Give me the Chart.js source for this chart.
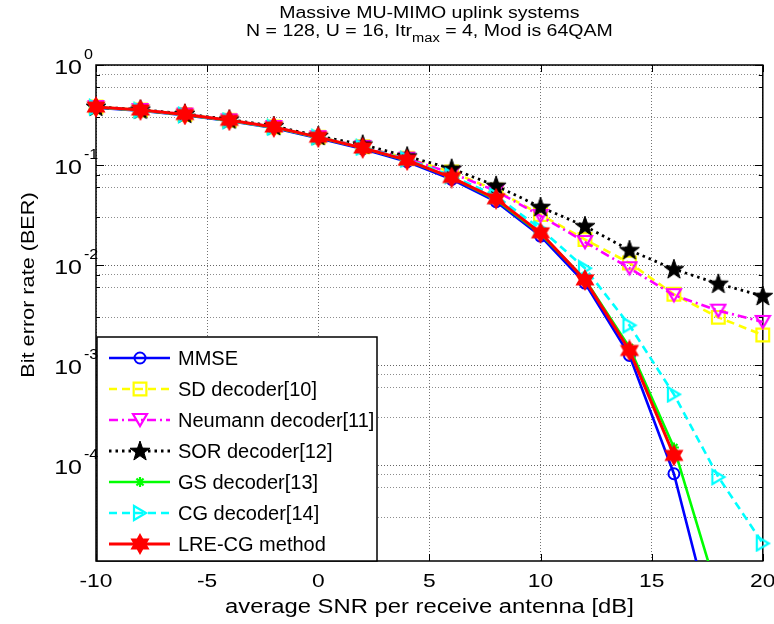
<!DOCTYPE html>
<html><head><meta charset="utf-8">
<script src="https://cdn.jsdelivr.net/npm/chart.js@4.4.0/dist/chart.umd.min.js"></script>
<style>html,body{margin:0;padding:0;background:#fff;}#wrap{width:774px;height:624px;}</style>
</head><body><div id="wrap"><canvas id="c" width="774" height="624"></canvas></div>
<script>
// ---- data ----
const snr = [-10,-8,-6,-4,-2,0,2,4,6,8,10,12,14,16,18,20];
const berMMSE    = [0.375,0.35,0.315,0.275,0.235,0.185,0.145,0.108,0.072,0.043,0.0195,0.0066,0.00125,0.000082,0.0000015,null];
const berSD      = [0.38,0.355,0.32,0.28,0.24,0.19,0.152,0.117,0.085,0.056,0.032,0.018,0.0105,0.0051,0.003,0.002];
const berNeumann = [0.38,0.355,0.32,0.28,0.24,0.19,0.152,0.116,0.083,0.055,0.031,0.017,0.0093,0.005,0.0035,0.0027];
const berSOR     = [0.382,0.358,0.325,0.285,0.245,0.195,0.16,0.122,0.092,0.062,0.038,0.0245,0.0141,0.0091,0.0065,0.0049];
const berGS      = [0.378,0.352,0.318,0.278,0.238,0.188,0.148,0.111,0.075,0.045,0.0205,0.0072,0.0015,0.00015,0.000005,null];
const berCG      = [0.378,0.352,0.318,0.278,0.238,0.19,0.15,0.114,0.078,0.049,0.023,0.0093,0.0025,0.00051,0.000076,0.0000165];
const berLRE     = [0.38,0.355,0.32,0.28,0.24,0.19,0.148,0.112,0.075,0.046,0.021,0.0071,0.0014,0.000125,null,null];
const seriesNames = ['MMSE','SD decoder[10]','Neumann decoder[11]','SOR decoder[12]','GS decoder[13]','CG decoder[14]','LRE-CG method'];
const xTicks = [-10,-5,0,5,10,15,20];
const yDecadeExps = [0,-1,-2,-3,-4];
const titleLine1 = 'Massive MU-MIMO uplink systems';
const titleLine2a = 'N = 128, U = 16, Itr', titleLine2sub = 'max', titleLine2b = ' = 4, Mod is 64QAM';
const xLabel = 'average SNR per receive antenna [dB]';
const yLabel = 'Bit error rate (BER)';

const FONT = '"Liberation Sans", Arial, sans-serif';

// ---- marker images ----
function mk(w,h,fn){const c=document.createElement('canvas');c.width=w;c.height=h;const g=c.getContext('2d');fn(g,w,h);return c;}
function starPath(g,cx,cy,n,ro,ri){g.beginPath();for(let i=0;i<2*n;i++){const r=i%2?ri:ro;const a=-Math.PI/2+i*Math.PI/n;const px=cx+r*Math.cos(a),py=cy+r*Math.sin(a);i?g.lineTo(px,py):g.moveTo(px,py);}g.closePath();}
const mTriDown = mk(18,18,(g)=>{g.strokeStyle='#FF00FF';g.lineWidth=2.2;g.beginPath();g.moveTo(2,3);g.lineTo(16,3);g.lineTo(9,15);g.closePath();g.stroke();});
const mTriRight = mk(18,18,(g)=>{g.strokeStyle='#00FFFF';g.lineWidth=2.2;g.beginPath();g.moveTo(3,2);g.lineTo(3,16);g.lineTo(15,9);g.closePath();g.stroke();});
const mPenta = mk(24,24,(g)=>{starPath(g,12,12.5,5,10.5,4.2);g.fillStyle='#000';g.fill();g.strokeStyle='#000';g.lineWidth=1;g.stroke();});
const mHexa = mk(22,22,(g)=>{starPath(g,11,11,6,9.5,5.4);g.fillStyle='#FF0000';g.fill();g.strokeStyle='#FF0000';g.lineWidth=1.5;g.stroke();});

const styles = [
  {color:'#0000FF', dash:[], width:2.6, pointStyle:'circle', radius:5.5, fill:'rgba(0,0,0,0)', pbw:2},
  {color:'#FFFF00', dash:[8,5], width:2.6, pointStyle:'rect', radius:9, fill:'rgba(0,0,0,0)', pbw:2.2},
  {color:'#FF00FF', dash:[9,4,2,4], width:2.6, pointStyle:mTriDown, radius:8, fill:'rgba(0,0,0,0)', pbw:2},
  {color:'#000000', dash:[2.5,4], width:2.8, pointStyle:mPenta, radius:8, fill:'#000', pbw:1},
  {color:'#00FF00', dash:[], width:2.6, pointStyle:'star', radius:5, fill:'#00FF00', pbw:2.2},
  {color:'#00FFFF', dash:[8,5], width:2.6, pointStyle:mTriRight, radius:8, fill:'rgba(0,0,0,0)', pbw:2},
  {color:'#FF0000', dash:[], width:3, pointStyle:mHexa, radius:8, fill:'#FF0000', pbw:1.5}
];
const seriesData = [berMMSE,berSD,berNeumann,berSOR,berGS,berCG,berLRE];

const datasets = seriesData.map((arr,i)=>({
  label: seriesNames[i],
  data: snr.map((x,j)=>({x:x,y:arr[j]})),
  borderColor: styles[i].color,
  backgroundColor: styles[i].fill,
  borderWidth: styles[i].width,
  borderDash: styles[i].dash,
  pointStyle: styles[i].pointStyle,
  pointRadius: styles[i].radius,
  pointBorderWidth: styles[i].pbw,
  pointBorderColor: styles[i].color,
  pointBackgroundColor: styles[i].fill,
  tension: 0,
  spanGaps: false,
  order: 6-i,
  clip: {left:15, top:15, right:15, bottom:0}
}));

// text drawn with a horizontal stretch along the baseline
function stext(ctx, str, x, y, size, align, sx){
  ctx.font = size+'px '+FONT; ctx.textAlign='left'; ctx.textBaseline='middle';
  const w = ctx.measureText(str).width*sx;
  const xl = align==='center'? x-w/2 : align==='right'? x-w : x;
  ctx.save(); ctx.translate(xl,y); ctx.scale(sx,1); ctx.fillText(str,0,0); ctx.restore();
  return w;
}

const decor = {
  id:'decor',
  beforeDatasetsDraw(chart){
    const {ctx, chartArea:a} = chart; const ys = chart.scales.y, xs = chart.scales.x;
    ctx.save();
    ctx.strokeStyle='#000'; ctx.lineWidth=1;
    ys.ticks.forEach(t=>{
      const y=Math.round(ys.getPixelForValue(t.value))+0.5;
      const L = t.major?8:4;
      ctx.beginPath();ctx.moveTo(a.left,y);ctx.lineTo(a.left+L,y);ctx.moveTo(a.right,y);ctx.lineTo(a.right-L,y);ctx.stroke();
    });
    xs.ticks.forEach(t=>{
      const x=Math.round(xs.getPixelForValue(t.value))+0.5;
      ctx.beginPath();ctx.moveTo(x,a.top);ctx.lineTo(x,a.top+7);ctx.moveTo(x,a.bottom);ctx.lineTo(x,a.bottom-7);ctx.stroke();
    });
    ctx.lineWidth=1.5;
    ctx.strokeRect(a.left,a.top,a.right-a.left,a.bottom-a.top);
    ctx.restore();
  },
  afterDatasetsDraw(chart){
    const {ctx} = chart; const a=chart.chartArea;
    ctx.save();
    const bx=a.left+1, by=337, bw=280, bh=a.bottom-337;
    ctx.fillStyle='#fff'; ctx.fillRect(bx,by,bw,bh);
    ctx.strokeStyle='#000'; ctx.lineWidth=1.5; ctx.strokeRect(bx,by,bw,bh);
    for(let i=0;i<7;i++){
      const y=358+31*i, s=styles[i];
      ctx.save();
      ctx.strokeStyle=s.color; ctx.lineWidth=s.width; ctx.setLineDash(s.dash);
      ctx.beginPath(); ctx.moveTo(bx+12,y); ctx.lineTo(bx+73,y); ctx.stroke();
      ctx.setLineDash([]);
      ctx.strokeStyle=s.color; ctx.fillStyle=s.fill; ctx.lineWidth=s.pbw;
      Chart.helpers.drawPoint(ctx,{pointStyle:s.pointStyle,radius:s.radius,rotation:0,borderWidth:s.pbw},bx+43,y);
      ctx.restore();
      ctx.fillStyle='#000';
      stext(ctx, seriesNames[i], bx+81, y+1, 20, 'left', 1);
    }
    ctx.restore();
  },
  afterDraw(chart){
    const {ctx, chartArea:a} = chart; const ys=chart.scales.y, xs=chart.scales.x;
    ctx.save(); ctx.fillStyle='#000';
    // y decade labels with superscript
    yDecadeExps.forEach(e=>{
      const y=ys.getPixelForValue(Math.pow(10,e));
      stext(ctx,'10',82,y+3,20,'right',1.25);
      stext(ctx,String(e),84,y-10,14,'left',1.15);
    });
    // x tick labels
    xTicks.forEach(v=>{ stext(ctx,String(v),xs.getPixelForValue(v),582,19,'center',1.2); });
    // axis titles
    stext(ctx, xLabel, (a.left+a.right)/2, 607, 20, 'center', 1.19);
    ctx.save(); ctx.translate(29,285); ctx.rotate(-Math.PI/2);
    stext(ctx, yLabel, 0, 0, 19, 'center', 1.14); ctx.restore();
    // title
    const cx=(a.left+a.right)/2, sx=1.22;
    stext(ctx, titleLine1, cx, 14, 16, 'center', sx);
    ctx.font='16px '+FONT; const w1=ctx.measureText(titleLine2a).width*sx, w3=ctx.measureText(titleLine2b).width*sx;
    ctx.font='12px '+FONT; const w2=ctx.measureText(titleLine2sub).width*sx;
    const x0=cx-(w1+w2+w3)/2;
    stext(ctx,titleLine2a,x0,32,16,'left',sx);
    stext(ctx,titleLine2sub,x0+w1,39,12,'left',sx);
    stext(ctx,titleLine2b,x0+w1+w2,32,16,'left',sx);
    ctx.restore();
  }
};

new Chart(document.getElementById('c'), {
  type:'line',
  data:{datasets},
  options:{
    responsive:false, animation:false, devicePixelRatio:1, events:[],
    layout:{padding:{top:65,right:10,left:0,bottom:0}},
    plugins:{legend:{display:false}, tooltip:{enabled:false}, title:{display:false}},
    scales:{
      x:{type:'linear', min:-10, max:20,
        afterBuildTicks:(s)=>{s.ticks=xTicks.map(v=>({value:v}));},
        afterFit:(s)=>{s.height=63;},
        ticks:{callback:()=>'', maxRotation:0, autoSkip:false},
        grid:{color:'rgba(0,0,0,0.55)', lineWidth:1, drawTicks:false},
        border:{display:false, dash:[1,2]}
      },
      y:{type:'logarithmic', min:1.1e-5, max:1,
        afterBuildTicks:(s)=>{const t=[];for(let e=-5;e<=0;e++){for(let m=1;m<=9;m++){const v=m*Math.pow(10,e);if(v>=s.min*0.999&&v<=s.max*1.001)t.push({value:v,major:m===1});}}s.ticks=t;},
        afterFit:(s)=>{s.width=96;},
        ticks:{callback:()=>''},
        grid:{color:(c)=>c.tick&&c.tick.major?'rgba(0,0,0,0.6)':'rgba(0,0,0,0.45)', lineWidth:1, drawTicks:false},
        border:{display:false, dash:[1,2]}
      }
    }
  },
  plugins:[decor]
});
</script></body></html>
